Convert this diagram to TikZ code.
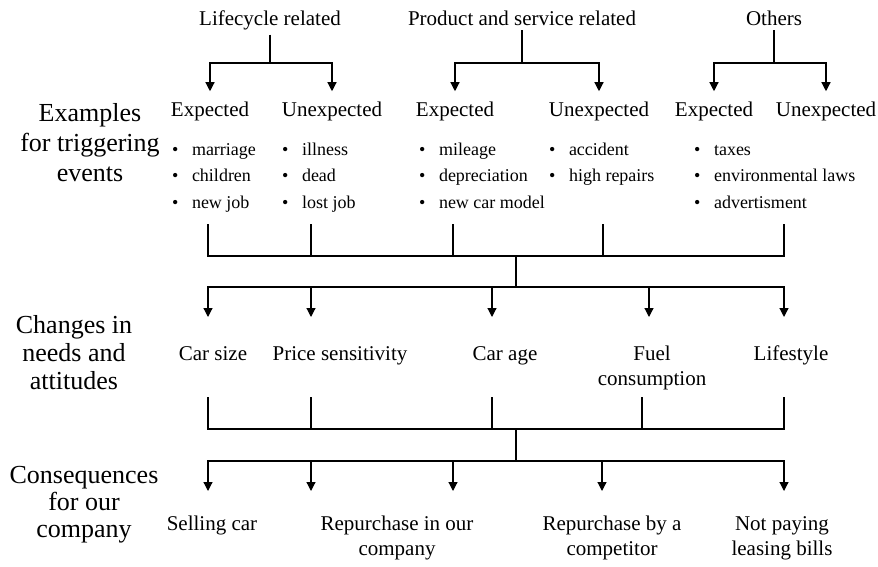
\documentclass[tikz,border=0pt]{standalone}
\usepackage{fontspec}
\setmainfont{Liberation Serif}
\usetikzlibrary{arrows.meta,positioning}

\newcommand{\itemlist}[1]{\begin{tabular}[t]{@{}l@{\hspace{13.5pt}}l@{}}#1\end{tabular}}

\begin{document}
\begin{tikzpicture}[
    x=1pt, y=-1pt,
    head/.style={font=\fontsize{21}{25}\selectfont, anchor=base, inner sep=4pt},
    sub/.style={font=\fontsize{21}{25}\selectfont, anchor=base, inner xsep=2pt, inner ysep=11pt},
    items/.style={font=\fontsize{18}{26}\selectfont, anchor=base west, inner sep=0pt},
    fac/.style={font=\fontsize{21}{25}\selectfont, align=center, anchor=base, inner sep=0pt},
    side/.style={font=\fontsize{26}{30}\selectfont, align=center, anchor=base, inner sep=0pt},
    conn/.style={line width=1.2pt},
    arrow/.style={conn, -{Triangle[width=9pt,length=9pt]}}
]
    \useasboundingbox (0,0) rectangle (878,567);

    % row titles (base = last line)
    \node[side] (trig) at (90,182) {Examples\\for triggering\\events};
    \node[side, font=\fontsize{26}{28}\selectfont] (needs) at (74,389) {Changes in\\needs and\\attitudes};
    \node[side, font=\fontsize{26}{27}\selectfont] (cons) at (84,537) {Consequences\\for our\\company};

    % event groups
    \node[head] (lc) at (270,26) {Lifecycle related};
    \node[head] (ps) at (522,26) {Product and service related};
    \node[head] (ot) at (774,26) {Others};
    \coordinate (lcJ) at (270,63);
    \coordinate (psJ) at (522,63);
    \coordinate (otJ) at (774,63);

    \node[sub] (lcE) at (210,117) {Expected};
    \node[sub] (lcU) at (332,117) {Unexpected};
    \node[sub] (psE) at (455,117) {Expected};
    \node[sub] (psU) at (599,117) {Unexpected};
    \node[sub] (otE) at (714,117) {Expected};
    \node[sub] (otU) at (826,117) {Unexpected};

    \draw[conn] (lc) -- (lcJ);
    \draw[arrow] (lcJ) -| (lcE);
    \draw[arrow] (lcJ) -| (lcU);
    \draw[conn] (ps) -- (psJ);
    \draw[arrow] (psJ) -| (psE);
    \draw[arrow] (psJ) -| (psU);
    \draw[conn] (ot) -- (otJ);
    \draw[arrow] (otJ) -| (otE);
    \draw[arrow] (otJ) -| (otU);

    % examples
    \node[items] (lcEx) at (172,156) {\itemlist{\textbullet & marriage\\ \textbullet & children\\ \textbullet & new job}};
    \node[items] (lcUx) at (282,156) {\itemlist{\textbullet & illness\\ \textbullet & dead\\ \textbullet & lost job}};
    \node[items] (psEx) at (419,156) {\itemlist{\textbullet & mileage\\ \textbullet & depreciation\\ \textbullet & new car model}};
    \node[items] (psUx) at (549,156) {\itemlist{\textbullet & accident\\ \textbullet & high repairs}};
    \node[items] (otEx) at (694,156) {\itemlist{\textbullet & taxes\\ \textbullet & environmental laws\\ \textbullet & advertisment}};

    % needs and attitudes
    \node[fac] (size) at (213,360) {Car size};
    \node[fac] (price) at (340,360) {Price sensitivity};
    \node[fac] (age) at (505,360) {Car age};
    \node[fac] (fuel) at (652,385) {Fuel\\consumption};
    \node[fac] (life) at (791,360) {Lifestyle};

    % consequences
    \node[fac] (sell) at (212,530) {Selling car};
    \node[fac] (rown) at (397,555) {Repurchase in our\\company};
    \node[fac] (rcomp) at (612,555) {Repurchase by a\\competitor};
    \node[fac] (nopay) at (782,555) {Not paying\\leasing bills};

    % first merge
    \coordinate (t1) at (208,224);
    \coordinate (t2) at (311,224);
    \coordinate (t3) at (453,224);
    \coordinate (t4) at (603,224);
    \coordinate (t5) at (784,224);
    \coordinate (m1) at (516,256);
    \coordinate (m2) at (516,287);
    \coordinate (c1) at (208,317);
    \coordinate (c2) at (311,317);
    \coordinate (c3) at (492,317);
    \coordinate (c4) at (649,317);
    \coordinate (c5) at (784,317);

    \draw[conn] (t1) |- (m1) -| (t5);
    \draw[conn] (t2) -- (t2 |- m1);
    \draw[conn] (t3) -- (t3 |- m1);
    \draw[conn] (t4) -- (t4 |- m1);
    \draw[conn] (m1) -- (m2);
    \draw[arrow] (m2) -| (c1);
    \draw[arrow] (m2) -| (c2);
    \draw[arrow] (m2) -| (c3);
    \draw[arrow] (m2) -| (c4);
    \draw[arrow] (m2) -| (c5);

    % second merge
    \coordinate (u1) at (208,397);
    \coordinate (u2) at (311,397);
    \coordinate (u3) at (492,397);
    \coordinate (u4) at (642,397);
    \coordinate (u5) at (784,397);
    \coordinate (n1) at (516,429);
    \coordinate (n2) at (516,461);
    \coordinate (d1) at (208,491);
    \coordinate (d2) at (311,491);
    \coordinate (d3) at (453,491);
    \coordinate (d4) at (602,491);
    \coordinate (d5) at (784,491);

    \draw[conn] (u1) |- (n1) -| (u5);
    \draw[conn] (u2) -- (u2 |- n1);
    \draw[conn] (u3) -- (u3 |- n1);
    \draw[conn] (u4) -- (u4 |- n1);
    \draw[conn] (n1) -- (n2);
    \draw[arrow] (n2) -| (d1);
    \draw[arrow] (n2) -| (d2);
    \draw[arrow] (n2) -| (d3);
    \draw[arrow] (n2) -| (d4);
    \draw[arrow] (n2) -| (d5);
\end{tikzpicture}
\end{document}
